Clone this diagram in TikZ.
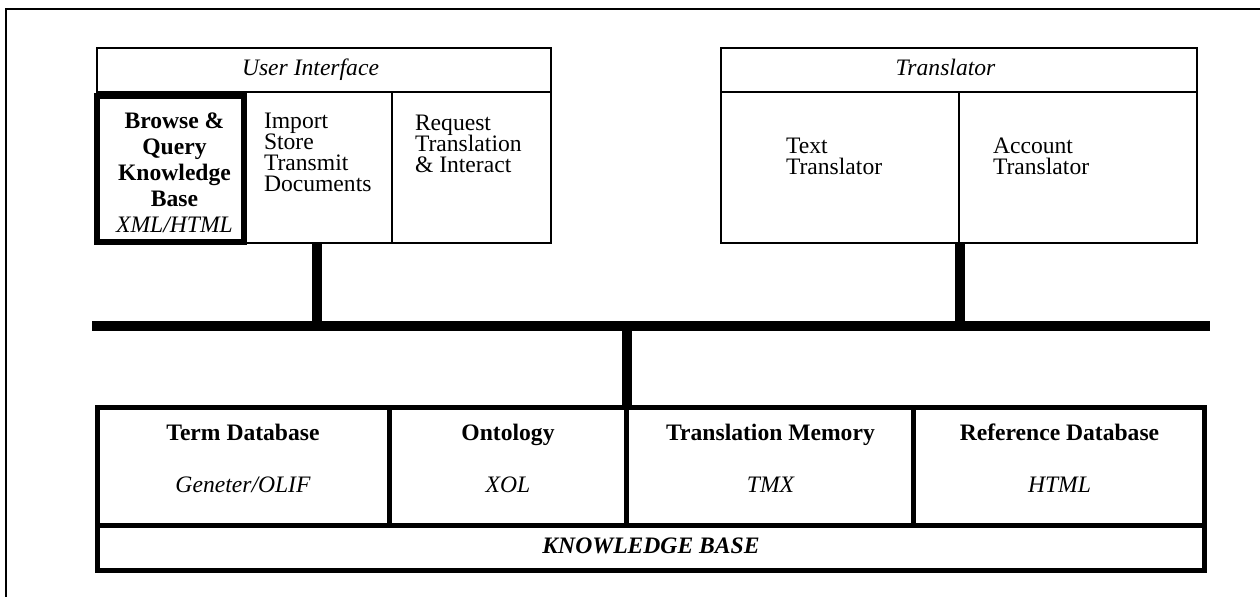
\documentclass[tikz,border=0pt]{standalone}
\usepackage{fontspec}
\setmainfont{Liberation Serif}
% stacked lines with a fixed baseline distance; the box baseline is the first line
\newcommand\stackL[2]{\vtop{\baselineskip=#1\lineskiplimit=-\maxdimen\lineskip=0pt\halign{##\hfil\cr#2\crcr}}}
\newcommand\stackC[2]{\vtop{\baselineskip=#1\lineskiplimit=-\maxdimen\lineskip=0pt\halign{\hfil##\hfil\cr#2\crcr}}}
\begin{document}
\begin{tikzpicture}[x=0.5pt,y=-0.5pt,
  every node/.style={inner sep=0pt,outer sep=0pt,font=\fontsize{11.8pt}{13pt}\selectfont},
  thinline/.style={line width=0.75pt},
  frontframe/.style={line width=3pt},
  busline/.style={line width=5pt},
  kbline/.style={line width=2.5pt},
  lbl/.style={anchor=base west},
  clbl/.style={anchor=base}]
\useasboundingbox (0,0) rectangle (1260,596);
\clip (0,0) rectangle (1260,596);
% page frame
\draw[thinline] (6,9) rectangle (1300,650);

% ---- User Interface block
\coordinate (uiNW) at (97,48);
\coordinate (uiSE) at (551,243);
\draw[thinline] (uiNW) rectangle (uiSE);
\draw[thinline] (97,92) -- (551,92);
\draw[thinline] (392,92) -- (392,243);
\draw[frontframe] (97,96) rectangle (244,242);
\node[clbl] (uiTitle) at (310.5,75) {\itshape User Interface};
\node[clbl] (browse) at (174.5,128) {\stackC{13pt}{\bfseries Browse \&\cr \bfseries Query\cr \bfseries Knowledge\cr \bfseries Base\cr \itshape XML/HTML}};
\node[lbl] (import) at (264,128) {\stackL{10.5pt}{Import\cr Store\cr Transmit\cr Documents}};
\node[lbl] (request) at (415,130) {\stackL{10.5pt}{Request\cr Translation\cr \& Interact}};

% ---- Translator block
\coordinate (trNW) at (721,48);
\coordinate (trSE) at (1197,243);
\draw[thinline] (trNW) rectangle (trSE);
\draw[thinline] (721,92) -- (1197,92);
\draw[thinline] (959,92) -- (959,243);
\node[clbl] (trTitle) at (945.5,75) {\itshape Translator};
\node[lbl] (textTr) at (786,153) {\stackL{10.5pt}{Text\cr Translator}};
\node[lbl] (acctTr) at (993,153) {\stackL{10.5pt}{Account\cr Translator}};

% ---- bus and its drops
\coordinate (busW) at (92,326);
\coordinate (busE) at (1210,326);
\coordinate (uiPort) at (317,243);
\coordinate (trPort) at (960,243);
\coordinate (kbPort) at (627,407.5);
\draw[busline] (busW) -- (busE);
\draw[busline] (uiPort) -- (uiPort |- busW);
\draw[busline] (trPort) -- (trPort |- busW);
\draw[busline] (kbPort |- busW) -- (kbPort);

% ---- Knowledge base
\coordinate (kbNW) at (97.5,407.5);
\coordinate (kbSE) at (1204.5,570.5);
\draw[kbline] (kbNW) rectangle (kbSE);
\draw[kbline] (97.5,525.5) -- (1204.5,525.5);
\draw[kbline] (389,407.5) -- (389,525.5);
\draw[kbline] (626,407.5) -- (626,525.5);
\draw[kbline] (913.5,407.5) -- (913.5,525.5);
\node[clbl] (termDb) at (243,440) {\bfseries Term Database};
\node[clbl] (termFmt) at (243,492) {\itshape Geneter/OLIF};
\node[clbl] (onto) at (508,440) {\bfseries Ontology};
\node[clbl] (ontoFmt) at (508,492) {\itshape XOL};
\node[clbl] (tm) at (770.5,440) {\bfseries Translation Memory};
\node[clbl] (tmFmt) at (770.5,492) {\itshape TMX};
\node[clbl] (refDb) at (1059.5,440) {\bfseries Reference Database};
\node[clbl] (refFmt) at (1059.5,492) {\itshape HTML};
\node[clbl] (kbTitle) at (651,553) {\bfseries\itshape KNOWLEDGE BASE};
\end{tikzpicture}
\end{document}
